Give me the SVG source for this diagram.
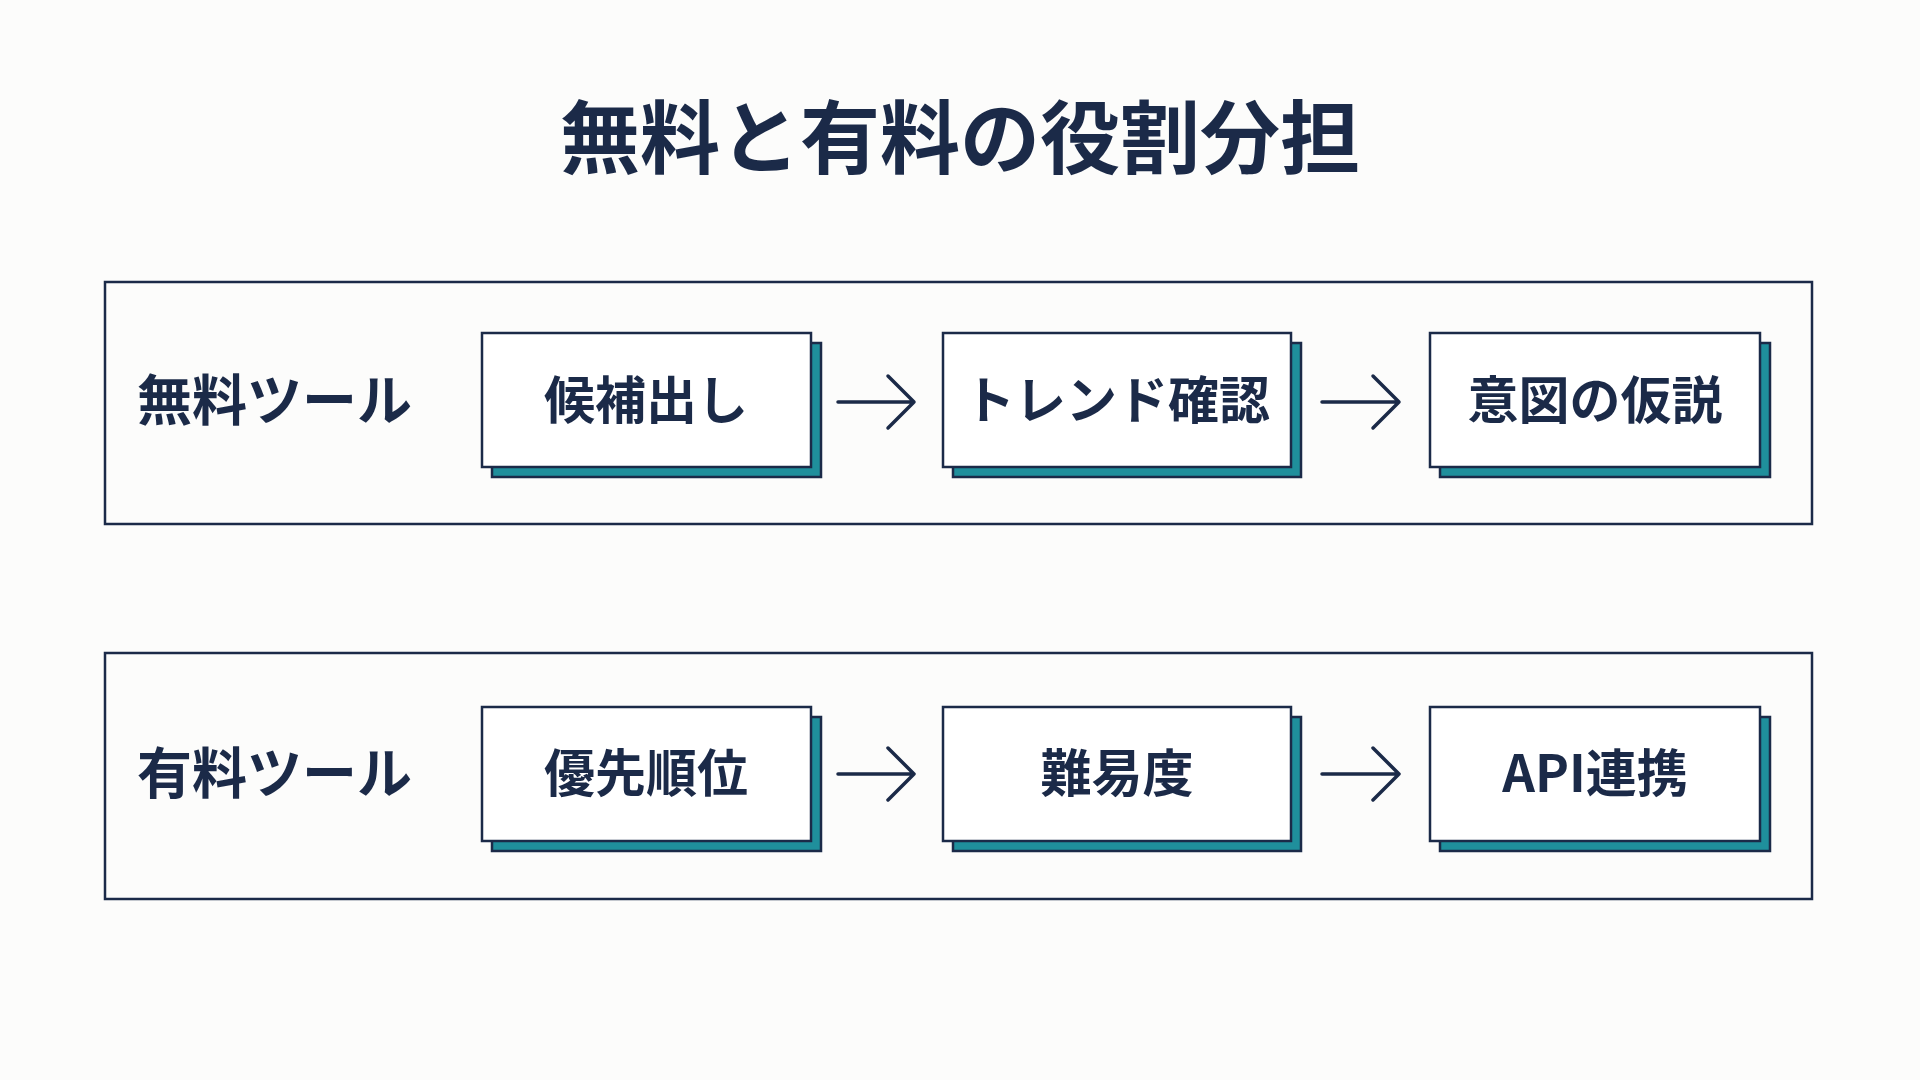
<svg xmlns="http://www.w3.org/2000/svg" width="1920" height="1080" viewBox="0 0 1920 1080">
<defs>
<style>
.t{font-family:"Noto Sans CJK JP","Noto Sans",sans-serif;font-weight:700;fill:#1b2a48}
.frame{fill:none;stroke:#1b2a48;stroke-width:2.5}
.sh{fill:#1f8f9c;stroke:#1b2a48;stroke-width:2.5}
.bx{fill:#fff;stroke:#1b2a48;stroke-width:2.5}
.ar{fill:none;stroke:#1b2a48;stroke-width:3.5;stroke-linecap:round;stroke-linejoin:round}
</style>
</defs>
<rect width="1920" height="1080" fill="#fcfcfb"/>
<text class="t" x="960" y="167" font-size="80" text-anchor="middle">無料と有料の役割分担</text>
<g id="free"><rect class="frame" x="105" y="282" width="1707" height="242"/><text class="t" x="137" y="420" font-size="55">無料ツール</text></g>
<g id="paid"><rect class="frame" x="105" y="653" width="1707" height="246"/><text class="t" x="137" y="793" font-size="55">有料ツール</text></g>
<g id="n1"><rect class="sh" x="492" y="343" width="329" height="134"/><rect class="bx" x="482" y="333" width="329" height="134"/><text class="t" x="646" y="419" font-size="51" text-anchor="middle">候補出し</text></g>
<g id="n2"><rect class="sh" x="953" y="343" width="348" height="134"/><rect class="bx" x="943" y="333" width="348" height="134"/><text class="t" x="1117" y="419" font-size="51" text-anchor="middle">トレンド確認</text></g>
<g id="n3"><rect class="sh" x="1440" y="343" width="330" height="134"/><rect class="bx" x="1430" y="333" width="330" height="134"/><text class="t" x="1595" y="419" font-size="51" text-anchor="middle">意図の仮説</text></g>
<g id="n4"><rect class="sh" x="492" y="717" width="329" height="134"/><rect class="bx" x="482" y="707" width="329" height="134"/><text class="t" x="646" y="792" font-size="51" text-anchor="middle">優先順位</text></g>
<g id="n5"><rect class="sh" x="953" y="717" width="348" height="134"/><rect class="bx" x="943" y="707" width="348" height="134"/><text class="t" x="1117" y="792" font-size="51" text-anchor="middle">難易度</text></g>
<g id="n6"><rect class="sh" x="1440" y="717" width="330" height="134"/><rect class="bx" x="1430" y="707" width="330" height="134"/><text class="t" x="1595" y="792" font-size="51" text-anchor="middle">API連携</text></g>
<g id="connectors">
<path class="ar" d="M838 402H914M888 376L914 402L888 428"/>
<path class="ar" d="M1322 402H1399M1373 376L1399 402L1373 428"/>
<path class="ar" d="M838 774H914M888 748L914 774L888 800"/>
<path class="ar" d="M1322 774H1399M1373 748L1399 774L1373 800"/>
</g>
</svg>
